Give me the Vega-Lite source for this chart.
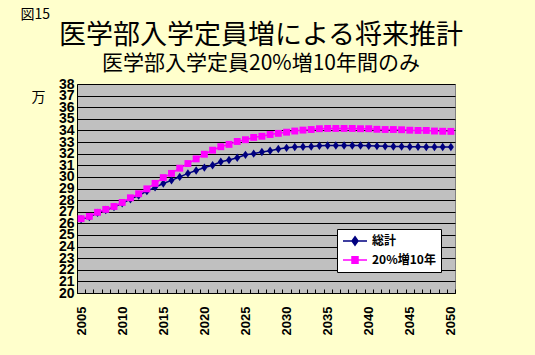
{
  "$schema": "https://vega.github.io/schema/vega-lite/v6.json",
  "width": 378,
  "height": 209,
  "autosize": {"type": "none"},
  "padding": {"left": 77, "top": 84, "right": 80, "bottom": 62},
  "background": "#FFFFCC",
  "config": {"view": {"fill": "#C0C0C0", "stroke": "#808080", "strokeWidth": 1}},
  "title": {
    "text": "医学部入学定員増による将来推計",
    "subtitle": "医学部入学定員20%増10年間のみ",
    "anchor": "middle",
    "frame": "group",
    "font": "Noto Sans CJK JP",
    "fontSize": 27,
    "fontWeight": "normal",
    "color": "black",
    "subtitleFont": "Noto Sans CJK JP",
    "subtitleFontSize": 21,
    "subtitleFontWeight": "normal",
    "subtitleColor": "black",
    "subtitlePadding": 3,
    "offset": -68,
    "dx": -5
  },
  "data": {
    "values": [
      {"year": 2005, "series": "総計", "value": 26.35},
      {"year": 2006, "series": "総計", "value": 26.55},
      {"year": 2007, "series": "総計", "value": 26.9},
      {"year": 2008, "series": "総計", "value": 27.15},
      {"year": 2009, "series": "総計", "value": 27.4},
      {"year": 2010, "series": "総計", "value": 27.72},
      {"year": 2011, "series": "総計", "value": 28.08},
      {"year": 2012, "series": "総計", "value": 28.4},
      {"year": 2013, "series": "総計", "value": 28.77},
      {"year": 2014, "series": "総計", "value": 29.1},
      {"year": 2015, "series": "総計", "value": 29.43},
      {"year": 2016, "series": "総計", "value": 29.7},
      {"year": 2017, "series": "総計", "value": 30.0},
      {"year": 2018, "series": "総計", "value": 30.3},
      {"year": 2019, "series": "総計", "value": 30.55},
      {"year": 2020, "series": "総計", "value": 30.8},
      {"year": 2021, "series": "総計", "value": 31.0},
      {"year": 2022, "series": "総計", "value": 31.3},
      {"year": 2023, "series": "総計", "value": 31.45},
      {"year": 2024, "series": "総計", "value": 31.65},
      {"year": 2025, "series": "総計", "value": 31.9},
      {"year": 2026, "series": "総計", "value": 32.0},
      {"year": 2027, "series": "総計", "value": 32.15},
      {"year": 2028, "series": "総計", "value": 32.25},
      {"year": 2029, "series": "総計", "value": 32.4},
      {"year": 2030, "series": "総計", "value": 32.5},
      {"year": 2031, "series": "総計", "value": 32.58},
      {"year": 2032, "series": "総計", "value": 32.6},
      {"year": 2033, "series": "総計", "value": 32.62},
      {"year": 2034, "series": "総計", "value": 32.68},
      {"year": 2035, "series": "総計", "value": 32.7},
      {"year": 2036, "series": "総計", "value": 32.7},
      {"year": 2037, "series": "総計", "value": 32.7},
      {"year": 2038, "series": "総計", "value": 32.7},
      {"year": 2039, "series": "総計", "value": 32.7},
      {"year": 2040, "series": "総計", "value": 32.68},
      {"year": 2041, "series": "総計", "value": 32.65},
      {"year": 2042, "series": "総計", "value": 32.63},
      {"year": 2043, "series": "総計", "value": 32.62},
      {"year": 2044, "series": "総計", "value": 32.62},
      {"year": 2045, "series": "総計", "value": 32.6},
      {"year": 2046, "series": "総計", "value": 32.6},
      {"year": 2047, "series": "総計", "value": 32.58},
      {"year": 2048, "series": "総計", "value": 32.58},
      {"year": 2049, "series": "総計", "value": 32.57},
      {"year": 2050, "series": "総計", "value": 32.57},
      {"year": 2005, "series": "20%増10年", "value": 26.4},
      {"year": 2006, "series": "20%増10年", "value": 26.6},
      {"year": 2007, "series": "20%増10年", "value": 26.95},
      {"year": 2008, "series": "20%増10年", "value": 27.2},
      {"year": 2009, "series": "20%増10年", "value": 27.45},
      {"year": 2010, "series": "20%増10年", "value": 27.8},
      {"year": 2011, "series": "20%増10年", "value": 28.2},
      {"year": 2012, "series": "20%増10年", "value": 28.55},
      {"year": 2013, "series": "20%増10年", "value": 28.97},
      {"year": 2014, "series": "20%増10年", "value": 29.44},
      {"year": 2015, "series": "20%増10年", "value": 29.94},
      {"year": 2016, "series": "20%増10年", "value": 30.3},
      {"year": 2017, "series": "20%増10年", "value": 30.75},
      {"year": 2018, "series": "20%増10年", "value": 31.15},
      {"year": 2019, "series": "20%増10年", "value": 31.55},
      {"year": 2020, "series": "20%増10年", "value": 31.95},
      {"year": 2021, "series": "20%増10年", "value": 32.3},
      {"year": 2022, "series": "20%増10年", "value": 32.6},
      {"year": 2023, "series": "20%増10年", "value": 32.8},
      {"year": 2024, "series": "20%増10年", "value": 33.05},
      {"year": 2025, "series": "20%増10年", "value": 33.2},
      {"year": 2026, "series": "20%増10年", "value": 33.4},
      {"year": 2027, "series": "20%増10年", "value": 33.5},
      {"year": 2028, "series": "20%増10年", "value": 33.65},
      {"year": 2029, "series": "20%増10年", "value": 33.75},
      {"year": 2030, "series": "20%増10年", "value": 33.85},
      {"year": 2031, "series": "20%増10年", "value": 33.95},
      {"year": 2032, "series": "20%増10年", "value": 34.03},
      {"year": 2033, "series": "20%増10年", "value": 34.08},
      {"year": 2034, "series": "20%増10年", "value": 34.15},
      {"year": 2035, "series": "20%増10年", "value": 34.17},
      {"year": 2036, "series": "20%増10年", "value": 34.17},
      {"year": 2037, "series": "20%増10年", "value": 34.17},
      {"year": 2038, "series": "20%増10年", "value": 34.17},
      {"year": 2039, "series": "20%増10年", "value": 34.15},
      {"year": 2040, "series": "20%増10年", "value": 34.15},
      {"year": 2041, "series": "20%増10年", "value": 34.1},
      {"year": 2042, "series": "20%増10年", "value": 34.08},
      {"year": 2043, "series": "20%増10年", "value": 34.08},
      {"year": 2044, "series": "20%増10年", "value": 34.06},
      {"year": 2045, "series": "20%増10年", "value": 34.02},
      {"year": 2046, "series": "20%増10年", "value": 34.0},
      {"year": 2047, "series": "20%増10年", "value": 34.0},
      {"year": 2048, "series": "20%増10年", "value": 33.95},
      {"year": 2049, "series": "20%増10年", "value": 33.93},
      {"year": 2050, "series": "20%増10年", "value": 33.92}
    ]
  },
  "layer": [
    {
      "mark": {"type": "line", "strokeWidth": 1.5},
      "encoding": {
        "x": {
          "field": "year",
          "type": "quantitative",
          "scale": {"domain": [2004.5, 2050.5], "nice": false, "zero": false},
          "axis": {
            "orient": "bottom",
            "values": [2005, 2010, 2015, 2020, 2025, 2030, 2035, 2040, 2045, 2050],
            "format": "d",
            "labelAngle": 270,
            "ticks": false,
            "grid": false,
            "domainColor": "black",
            "domainWidth": 1,
            "labelFont": "Liberation Sans",
            "labelFontSize": 13,
            "labelFontWeight": "bold",
            "labelColor": "black",
            "labelPadding": 13,
            "labelOverlap": false,
            "title": null
          }
        },
        "y": {
          "field": "value",
          "type": "quantitative",
          "scale": {"domain": [20, 38], "nice": false, "zero": false},
          "axis": {
            "values": [20, 21, 22, 23, 24, 25, 26, 27, 28, 29, 30, 31, 32, 33, 34, 35, 36, 37, 38],
            "grid": true,
            "gridColor": "black",
            "gridOpacity": 1,
            "gridWidth": 1,
            "ticks": false,
            "domainColor": "black",
            "labelFont": "Liberation Sans",
            "labelFontSize": 14,
            "labelFontWeight": "bold",
            "labelColor": "black",
            "labelPadding": 3,
            "labelOverlap": false,
            "title": "万",
            "titleAngle": 0,
            "titleX": -39,
            "titleY": 13,
            "titleAlign": "center",
            "titleBaseline": "middle",
            "titleFont": "Noto Sans CJK JP",
            "titleFontSize": 14,
            "titleFontWeight": "normal",
            "titleColor": "black"
          }
        },
        "color": {
          "field": "series",
          "type": "nominal",
          "scale": {"domain": ["総計", "20%増10年"], "range": ["#000080", "#FF00FF"]},
          "legend": {
            "orient": "none",
            "legendX": 260,
            "legendY": 145,
            "title": null,
            "fillColor": "white",
            "strokeColor": "black",
            "padding": 5,
            "rowPadding": 4,
            "labelFont": "Noto Sans CJK JP",
            "labelFontSize": 12,
            "labelFontWeight": "bold",
            "labelColor": "black",
            "labelOffset": 16,
            "symbolSize": 144,
            "encode": {
              "symbols": {
                "update": {
                  "shape": {"signal": "datum.value === '総計' ? 'M-1,0L3,0M1,-0.7L1.5,0L1,0.7L0.5,0Z' : 'M-1,0L3,0M0.5,-0.55L1.5,-0.55L1.5,0.55L0.5,0.55Z'"},
                  "stroke": {"signal": "scale('color', datum.value)"},
                  "fill": {"signal": "scale('color', datum.value)"},
                  "strokeWidth": {"value": 1.5},
                  "size": {"value": 144},
                  "opacity": {"value": 1}
                }
              }
            }
          }
        }
      }
    },
    {
      "transform": [{"filter": "datum.series === '総計'"}],
      "mark": {"type": "point", "filled": true, "opacity": 1, "size": 36, "strokeWidth": 0, "color": "#000080", "shape": "M0,-1.4L1,0L0,1.4L-1,0Z"},
      "encoding": {
        "x": {
          "field": "year",
          "type": "quantitative",
          "scale": {"domain": [2004.5, 2050.5], "nice": false, "zero": false},
          "axis": {
            "orient": "top",
            "offset": -209,
            "values": [2004.5, 2005.5, 2006.5, 2007.5, 2008.5, 2009.5, 2010.5, 2011.5, 2012.5, 2013.5, 2014.5, 2015.5, 2016.5, 2017.5, 2018.5, 2019.5, 2020.5, 2021.5, 2022.5, 2023.5, 2024.5, 2025.5, 2026.5, 2027.5, 2028.5, 2029.5, 2030.5, 2031.5, 2032.5, 2033.5, 2034.5, 2035.5, 2036.5, 2037.5, 2038.5, 2039.5, 2040.5, 2041.5, 2042.5, 2043.5, 2044.5, 2045.5, 2046.5, 2047.5, 2048.5, 2049.5, 2050.5],
            "labels": false,
            "ticks": true,
            "tickSize": 4,
            "tickColor": "black",
            "tickWidth": 1,
            "domain": false,
            "grid": false,
            "title": "図15",
            "titleX": -57,
            "titleY": -279,
            "titleAlign": "left",
            "titleBaseline": "middle",
            "titleAngle": 0,
            "titleFont": "Noto Sans CJK JP",
            "titleFontSize": 14,
            "titleFontWeight": "normal",
            "titleColor": "black"
          }
        },
        "y": {
          "field": "value",
          "type": "quantitative",
          "scale": {"domain": [20, 38], "nice": false, "zero": false},
          "axis": {
            "values": [20, 21, 22, 23, 24, 25, 26, 27, 28, 29, 30, 31, 32, 33, 34, 35, 36, 37, 38],
            "grid": true,
            "gridColor": "black",
            "gridOpacity": 1,
            "gridWidth": 1,
            "ticks": false,
            "domainColor": "black",
            "labelFont": "Liberation Sans",
            "labelFontSize": 14,
            "labelFontWeight": "bold",
            "labelColor": "black",
            "labelPadding": 3,
            "labelOverlap": false,
            "title": "万",
            "titleAngle": 0,
            "titleX": -39,
            "titleY": 13,
            "titleAlign": "center",
            "titleBaseline": "middle",
            "titleFont": "Noto Sans CJK JP",
            "titleFontSize": 14,
            "titleFontWeight": "normal",
            "titleColor": "black"
          }
        }
      }
    },
    {
      "transform": [{"filter": "datum.series === '20%増10年'"}],
      "mark": {"type": "point", "filled": true, "opacity": 1, "size": 36, "strokeWidth": 0, "color": "#FF00FF", "shape": "M-1.15,-1.15L1.15,-1.15L1.15,1.15L-1.15,1.15Z"},
      "encoding": {
        "x": {
          "field": "year",
          "type": "quantitative",
          "scale": {"domain": [2004.5, 2050.5], "nice": false, "zero": false},
          "axis": null
        },
        "y": {
          "field": "value",
          "type": "quantitative",
          "scale": {"domain": [20, 38], "nice": false, "zero": false},
          "axis": {
            "values": [20, 21, 22, 23, 24, 25, 26, 27, 28, 29, 30, 31, 32, 33, 34, 35, 36, 37, 38],
            "grid": true,
            "gridColor": "black",
            "gridOpacity": 1,
            "gridWidth": 1,
            "ticks": false,
            "domainColor": "black",
            "labelFont": "Liberation Sans",
            "labelFontSize": 14,
            "labelFontWeight": "bold",
            "labelColor": "black",
            "labelPadding": 3,
            "labelOverlap": false,
            "title": "万",
            "titleAngle": 0,
            "titleX": -39,
            "titleY": 13,
            "titleAlign": "center",
            "titleBaseline": "middle",
            "titleFont": "Noto Sans CJK JP",
            "titleFontSize": 14,
            "titleFontWeight": "normal",
            "titleColor": "black"
          }
        }
      }
    }
  ],
  "resolve": {"axis": {"x": "independent"}}
}
